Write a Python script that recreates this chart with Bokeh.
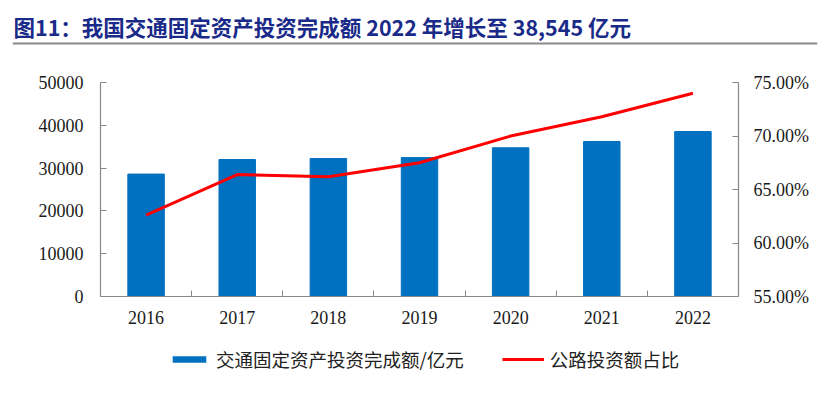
from bokeh.plotting import figure
from bokeh.models import (Range1d, LinearAxis, FixedTicker, NumeralTickFormatter,
                          Legend, LegendItem, ColumnDataSource, Label, Span)
from bokeh.layouts import column
from bokeh.embed import file_html
from bokeh.resources import INLINE

# ---- data ----
years = ["2016", "2017", "2018", "2019", "2020", "2021", "2022"]
invest = [28600, 32000, 32235, 32451, 34752, 36220, 38545]          # 亿元
road_share = [0.626, 0.664, 0.662, 0.675, 0.700, 0.718, 0.740]      # 公路投资额占比
left_ticks = [0, 10000, 20000, 30000, 40000, 50000]
right_ticks = [0.55, 0.60, 0.65, 0.70, 0.75]
title_text = "图11：我国交通固定资产投资完成额 2022 年增长至 38,545 亿元"
bar_label = "交通固定资产投资完成额/亿元"
line_label = "公路投资额占比"

BLUE = "#0070C0"
RED = "#FF0000"
AXIS = "#888888"
SERIF = "Liberation Serif"
CJK = "Noto Sans CJK SC"
W = 830

xs = list(range(len(years)))
src = ColumnDataSource(dict(x=xs, invest=invest, share=road_share))

# ---- header: title + grey rule ----
HH = 48
head = figure(width=W, height=HH, output_backend="svg", toolbar_location=None,
              x_range=Range1d(0, W - 25), y_range=Range1d(0, HH), frame_align=False,
              min_border_left=12, min_border_right=13, min_border_top=0, min_border_bottom=0,
              outline_line_color=None)
head.axis.visible = False
head.grid.visible = False
head.add_layout(Label(x=1, y=HH - 26, text=title_text, text_font=CJK,
                      text_font_size="21.5px", text_font_style="bold",
                      text_color="#1a2a88", text_baseline="middle", text_align="left"))
head.add_layout(Span(location=HH - 43, dimension="width", line_color="#8a8a8a", line_width=2))

# ---- main chart ----
p = figure(width=W, height=288, output_backend="svg", toolbar_location=None,
           x_range=Range1d(-0.5, len(years) - 0.5), y_range=Range1d(0, 50000),
           frame_align=False,
           min_border_left=100, min_border_right=W - 738, min_border_top=34, min_border_bottom=40,
           outline_line_color=None)
p.grid.visible = False
p.xaxis.visible = False
p.yaxis.visible = False
p.extra_y_ranges = {"pct": Range1d(0.55, 0.75)}

p.vbar(x="x", top="invest", width=0.4, source=src, fill_color=BLUE, line_color=BLUE)
p.line(x="x", y="share", source=src, y_range_name="pct", line_color=RED, line_width=3)

def style_axis(ax):
    ax.axis_line_color = AXIS
    ax.axis_line_width = 1.2
    ax.major_tick_line_color = AXIS
    ax.major_tick_in = 6
    ax.major_tick_out = 0
    ax.minor_tick_line_color = None
    ax.major_label_text_font = SERIF
    ax.major_label_text_font_size = "18px"
    ax.major_label_text_color = "#1a1a1a"

yl = LinearAxis(ticker=FixedTicker(ticks=left_ticks))
style_axis(yl)
yl.major_label_standoff = 17
p.add_layout(yl, "left")

yr = LinearAxis(y_range_name="pct", ticker=FixedTicker(ticks=right_ticks),
                formatter=NumeralTickFormatter(format="0.00%"))
style_axis(yr)
yr.major_label_standoff = 15
p.add_layout(yr, "right")

xa = LinearAxis(ticker=FixedTicker(ticks=xs, minor_ticks=[i + 0.5 for i in xs[:-1]]),
                major_label_overrides={i: y for i, y in enumerate(years)})
style_axis(xa)
xa.major_tick_line_color = None
xa.minor_tick_line_color = AXIS
xa.minor_tick_in = 6
xa.minor_tick_out = 0
xa.major_label_standoff = 14
p.add_layout(xa, "below")

# ---- legend strip (key renderers share the data but lie far outside this strip's view) ----
LH = 42
lf = figure(width=W, height=LH, output_backend="svg", toolbar_location=None,
            x_range=Range1d(1000, 1001), y_range=Range1d(1e7, 1e7 + 1), frame_align=False,
            min_border_left=0, min_border_right=0, min_border_top=0, min_border_bottom=0,
            outline_line_color=None)
lf.axis.visible = False
lf.grid.visible = False
key_bar = lf.vbar(x="x", top="invest", width=0.4, source=src, fill_color=BLUE, line_color=None)
key_line = lf.line(x="x", y="share", source=src, line_color=RED, line_width=3)
legend = Legend(items=[LegendItem(label=bar_label, renderers=[key_bar]),
                       LegendItem(label=line_label, renderers=[key_line])],
                orientation="horizontal", location=(168, 6),
                label_text_font=CJK, label_text_font_size="18.5px", label_text_color="#222222",
                glyph_width=42, glyph_height=8, label_standoff=6, spacing=38,
                border_line_color=None, background_fill_alpha=0, margin=0, padding=4)
lf.add_layout(legend, "center")

layout = column(head, p, lf, spacing=0)
open("out.html", "w").write(file_html(layout, INLINE))
